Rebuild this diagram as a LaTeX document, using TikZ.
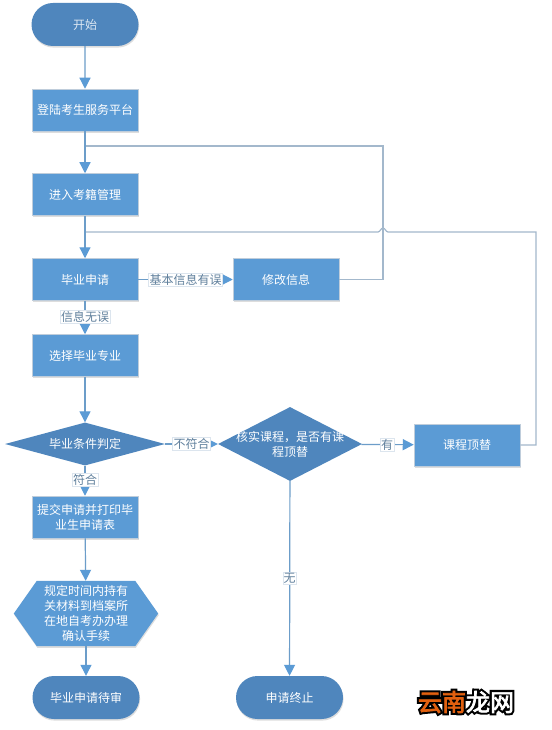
\documentclass[tikz,border=0pt]{standalone}
\usepackage{fontspec}
\setmainfont{Noto Sans CJK SC}
\newfontfamily\markouter[FakeBold=20]{Noto Sans CJK SC}
\newfontfamily\markinner[FakeBold=3]{Noto Sans CJK SC}
\usetikzlibrary{shapes.geometric,shapes.misc,shadows,arrows.meta,calc}
\definecolor{boxblue}{HTML}{5B9BD5}
\definecolor{darkblue}{HTML}{4F86BD}
\definecolor{linegrey}{HTML}{A3B8CC}
\definecolor{linkblue}{HTML}{6C9DC9}
\definecolor{labeltext}{HTML}{5F7F9C}
\definecolor{labelrule}{HTML}{DCE5EE}
\definecolor{markorange}{HTML}{E2600F}
\newcommand{\ztext}[1]{\makebox[0pt]{\raisebox{-4.5pt}[0pt][0pt]{\begin{tabular}[c]{@{}c@{}}#1\end{tabular}}}}
\tikzset{
  softshadow/.style={drop shadow={shadow xshift=0.6pt,shadow yshift=-1.6pt,fill=black!60,opacity=.22}},
  basetext/.style={text=white,font=\fontsize{12}{15}\selectfont,align=center,inner sep=0pt},
  stepbox/.style={rectangle,basetext,fill=boxblue,draw=linegrey!70,line width=.5pt,minimum width=106pt,minimum height=42pt,softshadow},
  stadium/.style={rounded rectangle,basetext,fill=darkblue,minimum width=107pt,minimum height=43pt,softshadow},
  decide/.style={diamond,basetext,fill=darkblue},
  hexframe/.style={fill=boxblue,drop shadow={shadow xshift=0.6pt,shadow yshift=-1.6pt,fill=black!60,opacity=.22}},
  hexslot/.style={rectangle,inner sep=0pt,minimum width=144pt,minimum height=65pt},
  plaintext/.style={basetext,rectangle},
  tag/.style={fill=white,draw=labelrule,line width=.5pt,text=labeltext,font=\fontsize{12}{14}\selectfont,inner sep=.8pt},
  flow/.style={draw=linkblue,line width=1.2pt,-{Triangle[length=11pt,width=11pt,color=boxblue]}},
  back/.style={draw=linegrey,line width=1.2pt},
}
\begin{document}
\begin{tikzpicture}[x=1pt,y=-1pt]
\useasboundingbox (0,0) rectangle (551,730);
\fill[white] (0,0) rectangle (551,730);

\node[stadium] (start) at (85,24.5) {\color{white!80!darkblue}开始};
\node[stepbox] (login) at (85,110) {登陆考生服务平台};
\node[stepbox] (status) at (85,194.5) {进入考籍管理};
\node[stepbox] (apply) at (85,279.5) {毕业申请};
\node[stepbox] (fix) at (286,279.5) {修改信息};
\node[stepbox] (major) at (85,355.5) {选择毕业专业};
\node[decide,minimum width=160pt,minimum height=43pt] (judge) at (85,444) {\ztext{毕业条件判定}};
\node[decide,minimum width=144pt,minimum height=74pt] (verify) at (290,444) {\ztext{核实课程，是否有课\\程顶替}};
\node[stepbox] (replace) at (467,445) {课程顶替};
\node[stepbox] (submit) at (85,517) {提交申请并打印毕\\业生申请表};
\node[hexslot] (hex) at (86,613.5) {};
\path[hexframe] (hex.west) -- ($(hex.north west)+(23,0)$) -- ($(hex.north east)+(-23,0)$) -- (hex.east) -- ($(hex.south east)+(-23,0)$) -- ($(hex.south west)+(23,0)$) -- cycle;
\node[plaintext] (hextext) at (hex) {规定时间内持有\\关材料到档案所\\在地自考办办理\\确认手续};
\node[stadium] (wait) at (86,697.5) {毕业申请待审};
\node[stadium] (stop) at (289.5,697.5) {申请终止};

\coordinate (j1) at (85,146);
\coordinate (j2) at (85,232);
\coordinate (c1) at (383,279.5);
\coordinate (c2) at (383,146);
\coordinate (c3) at (536,445);
\coordinate (c4) at (536,232);
\coordinate (h1) at (388,232);
\coordinate (h2) at (378,232);

\draw[back] (fix.east) -- (c1) -- (c2) -- (j1);
\draw[back] (replace.east) -- (c3) -- (c4) -- (h1) .. controls (386,232) and (385,228) .. (383,228) .. controls (381,228) and (380,232) .. (h2) -- (j2);

\draw[flow] (start) -- (login);
\draw[flow] (login) -- (status);
\draw[flow] (status) -- (apply);
\draw[flow] (apply) -- (fix) node[tag,pos=.5] (t1) {基本信息有误};
\draw[flow] (apply) -- (major) node[tag,midway,yshift=1pt] (t2) {信息无误};
\draw[flow] (major) -- (judge);
\draw[flow] (judge) -- (submit) node[tag,pos=.47] (t3) {符合};
\draw[flow] (judge) -- (verify) node[tag,midway] (t4) {不符合};
\draw[flow] (verify) -- (replace) node[tag,pos=.49] (t5) {有};
\draw[flow] (verify) -- (stop) node[tag,pos=.5] (t6) {无};
\draw[flow] (submit) -- (hex);
\draw[flow] (hex) -- (wait);

\node[font=\markouter\fontsize{24}{24}\selectfont,text=black,inner sep=0pt] (wmk) at (466,702) {云南龙网};
\node[font=\markinner\fontsize{24}{24}\selectfont,inner sep=0pt] (wmt) at (466,702) {\textcolor{markorange}{云南}\textcolor{white}{龙网}};
\end{tikzpicture}
\end{document}
